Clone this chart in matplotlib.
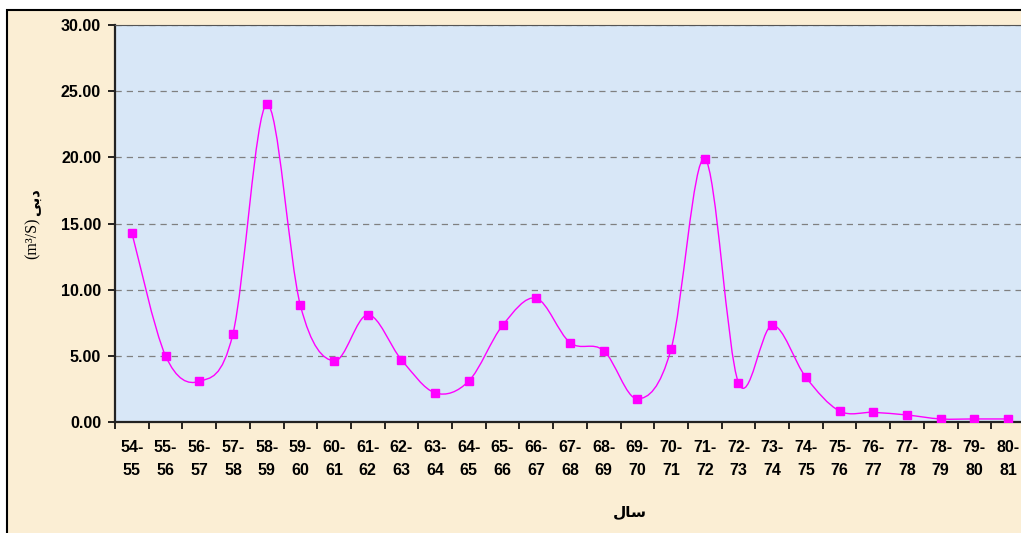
import matplotlib.pyplot as plt
import numpy as np
from matplotlib.path import Path
from matplotlib.patches import PathPatch, Rectangle

# water years (Persian calendar), two lines per tick label
years = ["54-\n55", "55-\n56", "56-\n57", "57-\n58", "58-\n59", "59-\n60", "60-\n61",
         "61-\n62", "62-\n63", "63-\n64", "64-\n65", "65-\n66", "66-\n67", "67-\n68",
         "68-\n69", "69-\n70", "70-\n71", "71-\n72", "72-\n73", "73-\n74", "74-\n75",
         "75-\n76", "76-\n77", "77-\n78", "78-\n79", "79-\n80", "80-\n81"]
discharge = [14.3, 5.0, 3.07, 6.67, 24.0, 8.82, 4.61, 8.1, 4.7, 2.2, 3.1, 7.3, 9.35, 6.0,
             5.4, 1.75, 5.5, 19.9, 2.97, 7.3, 3.38, 0.83, 0.73, 0.53, 0.23, 0.23, 0.23]
y_ticks = [0, 5, 10, 15, 20, 25, 30]

# Arabic-script labels, given in presentation forms so they show joined and right-to-left
y_title_fa = "\uFBFD\uFE91\uFEA9"   # dabi
y_title_unit = "(m\u00B3/S)"
x_title_fa = "\uFEDD\uFE8E\uFEB3"   # sal

W, H = 1021, 533
fig = plt.figure(figsize=(W / 100, H / 100), dpi=100)
fig.patch.set_facecolor("white")

# beige chart frame, running off the right and bottom edges
frame = Rectangle((7 / W, -0.1), 1.2, 1.1 - 10.5 / H,
                  transform=fig.transFigure, facecolor="#fbeed4",
                  edgecolor="black", linewidth=1.5, zorder=-5)
fig.patches.append(frame)

n = len(years)
cat_w = 33.7
ax = fig.add_axes([115 / W, (H - 422) / H, n * cat_w / W, 397 / H])
ax.set_zorder(2)
ax.set_facecolor("#d8e7f7")

x = np.arange(n)
y = np.array(discharge)

# smoothed line like a spreadsheet "smoothed line": cubic Bezier through the points
verts = [(x[0], y[0])]
codes = [Path.MOVETO]
for i in range(n - 1):
    p0 = np.array([x[max(i - 1, 0)], y[max(i - 1, 0)]])
    p1 = np.array([x[i], y[i]])
    p2 = np.array([x[i + 1], y[i + 1]])
    p3 = np.array([x[min(i + 2, n - 1)], y[min(i + 2, n - 1)]])
    c1 = p1 + (p2 - p0) / 6
    c2 = p2 - (p3 - p1) / 6
    verts += [tuple(c1), tuple(c2), tuple(p2)]
    codes += [Path.CURVE4] * 3
ax.add_patch(PathPatch(Path(verts, codes), facecolor="none", edgecolor="#ff00ff",
                       linewidth=1.0, zorder=3))
ax.plot(x, y, linestyle="none", marker="s", markersize=5.5, color="#ff00ff", zorder=4)

ax.set_xlim(-0.5, n - 0.5)
ax.set_ylim(0, 30)
ax.set_yticks(y_ticks)
ax.set_yticklabels(["%.2f" % v for v in y_ticks])
ax.set_xticks(x)
ax.set_xticklabels(years, linespacing=1.65)
ax.set_xticks(np.arange(n + 1) - 0.5, minor=True)

ax.tick_params(axis="x", which="major", length=0, pad=13)
ax.tick_params(axis="x", which="minor", length=5, width=1.2, direction="out")
ax.tick_params(axis="y", length=5, width=1.2, pad=5)
for lab in ax.get_xticklabels() + ax.get_yticklabels():
    lab.set_fontfamily("Liberation Sans")
    lab.set_fontweight("bold")
    lab.set_fontsize(11.5)

ax.grid(axis="y", color="#808080", linestyle=(0, (5, 4)), linewidth=0.9)
ax.set_axisbelow(True)
for side in ["left", "bottom"]:
    ax.spines[side].set_linewidth(1.6)
    ax.spines[side].set_color("#222222")
ax.spines["top"].set_color("#555555")
ax.spines["top"].set_linewidth(0.8)
ax.spines["right"].set_visible(False)

fig.text(33 / W, 1 - 238 / H, y_title_unit, rotation=90, ha="center", va="center",
         family=["Liberation Serif", "DejaVu Sans"], fontsize=11.5)
fig.text(34 / W, 1 - 202 / H, y_title_fa, rotation=90, ha="center", va="center",
         family=["DejaVu Sans"], fontweight="bold", fontsize=10.5)
fig.text(630 / W, 1 - 512 / H, x_title_fa, ha="center", va="center",
         family=["DejaVu Sans"], fontweight="bold", fontsize=11)

fig.savefig("out.png", dpi=100, facecolor=fig.get_facecolor())
